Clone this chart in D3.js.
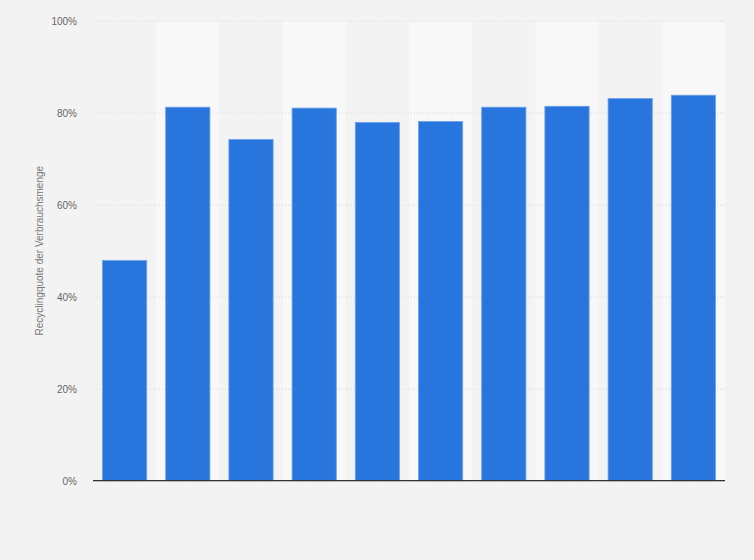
<!DOCTYPE html>
<html>
<head>
<meta charset="utf-8" />
<title>Recyclingquote</title>
<style>
body { margin: 0; background: #f3f3f3; }
svg { display: block; font-family: "Liberation Sans", Arial, sans-serif; }
.grid line { stroke: #d4d4d4; stroke-dasharray: 1,2; }
.tick text { fill: #666; font-size: 10px; }
</style>
</head>
<body>
<script src="https://d3js.org/d3.v7.min.js"></script>
<script>
// no category labels are shown in the chart, ten bars
var categories = ["1","2","3","4","5","6","7","8","9","10"];
var values = [47.9, 81.2, 74.2, 81.0, 77.9, 78.1, 81.2, 81.4, 83.1, 83.8];
var yTicks = [0, 20, 40, 60, 80, 100];
var yTitle = "Recyclingquote der Verbrauchsmenge";

var width = 754,
    height = 560;
var margin = {top: 20.7, right: 29, bottom: 79.3, left: 93};

var svg = d3.select("body").append("svg")
  .attr("width", width)
  .attr("height", height);

svg.append("rect")
  .attr("width", width).attr("height", height)
  .attr("fill", "#f3f3f3");

var x = d3.scaleBand()
  .domain(categories)
  .range([margin.left, width - margin.right])
  .paddingInner(0.3)
  .paddingOuter(0.15);

var y = d3.scaleLinear()
  .domain([0, 100])
  .range([height - margin.bottom, margin.top]);

// alternating background bands
var step = x.step();
svg.append("g").selectAll("rect")
  .data(categories)
  .enter()
  .append("rect")
  .attr("x", d => x(d) - step * 0.15)
  .attr("y", y(100))
  .attr("width", step)
  .attr("height", y(0) - y(100))
  .attr("fill", (d, i) => i % 2 ? "#f8f8f8" : "#f3f3f3");

// gridlines + tick labels
var yAxis = svg.append("g")
  .attr("class", "grid")
  .attr("transform", "translate(" + margin.left + ",0)")
  .call(d3.axisLeft(y)
    .tickValues(yTicks)
    .tickSize(-(width - margin.left - margin.right))
    .tickPadding(16)
    .tickFormat(d => d + "%"));
yAxis.select(".domain").remove();
yAxis.selectAll(".tick text").attr("dy", "0.35em");

svg.append("text")
  .attr("transform", "translate(43," + ((margin.top + height - margin.bottom) / 2) + ") rotate(-90)")
  .attr("text-anchor", "middle")
  .attr("fill", "#777")
  .style("font-size", "10px")
  .text(yTitle);

// bars
svg.append("g").selectAll("rect")
  .data(values)
  .enter()
  .append("rect")
  .attr("x", (d, i) => x(categories[i]))
  .attr("y", d => y(d))
  .attr("width", x.bandwidth())
  .attr("height", d => y(0) - y(d))
  .attr("fill", "#2876dd")
  .attr("stroke", "#6fa3ea")
  .attr("stroke-width", 0.8);

// baseline
svg.append("line")
  .attr("x1", margin.left)
  .attr("x2", width - margin.right)
  .attr("y1", y(0))
  .attr("y2", y(0))
  .attr("stroke", "#333")
  .attr("stroke-width", 1.2);
</script>
</body>
</html>
